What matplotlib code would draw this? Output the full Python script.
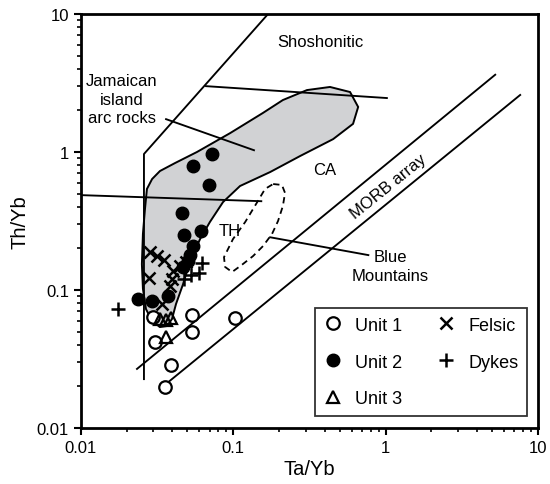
import matplotlib
matplotlib.use('Agg')
import matplotlib.pyplot as plt

plt.rcParams['font.family'] = ['Liberation Sans', 'DejaVu Sans']

# samples, Ta/Yb (x) and Th/Yb (y)
unit1_ta = [0.0298, 0.0535, 0.0535, 0.0307, 0.0391, 0.0357, 0.103]
unit1_th = [0.0637, 0.0659, 0.0499, 0.0422, 0.0286, 0.0197, 0.0624]
unit2_ta = [0.0724, 0.0543, 0.0698, 0.046, 0.0479, 0.0615, 0.0548, 0.0521, 0.0506, 0.0469, 0.0239, 0.0292, 0.0376]
unit2_th = [0.967, 0.788, 0.579, 0.361, 0.252, 0.266, 0.208, 0.179, 0.162, 0.147, 0.0861, 0.0836, 0.091]
unit3_ta = [0.0331, 0.0363, 0.0391, 0.0363]
unit3_th = [0.0616, 0.0606, 0.0627, 0.0458]
felsic_ta = [0.0285, 0.0316, 0.0352, 0.0281, 0.0403, 0.0397, 0.0385, 0.0449, 0.0491, 0.0342]
felsic_th = [0.188, 0.176, 0.165, 0.122, 0.137, 0.120, 0.107, 0.149, 0.160, 0.0792]
dyke_ta = [0.0625, 0.0597, 0.053, 0.0476, 0.0177]
dyke_th = [0.157, 0.133, 0.128, 0.120, 0.0728]

# field boundaries
ca_field_ta = [0.0272, 0.0294, 0.0331, 0.0416, 0.0579, 0.0955, 0.157, 0.212, 0.305, 0.432, 0.585,
               0.661, 0.612, 0.453, 0.275, 0.175, 0.111, 0.0859, 0.0704, 0.0607, 0.0521, 0.0469,
               0.0422, 0.0397, 0.0368, 0.0331, 0.0294, 0.0268, 0.0256, 0.0252, 0.0256, 0.0264]
ca_field_th = [0.540, 0.637, 0.728, 0.832, 1.0, 1.37, 1.92, 2.38, 2.81, 2.96, 2.72,
               2.12, 1.60, 1.24, 0.935, 0.716, 0.567, 0.434, 0.311, 0.234, 0.162, 0.110,
               0.0792, 0.0616, 0.0548, 0.0539, 0.0596, 0.0728, 0.102, 0.154, 0.255, 0.386]
bm_field_ta = [0.183, 0.209, 0.219, 0.212, 0.197, 0.180, 0.157, 0.135, 0.114, 0.0984, 0.0885,
               0.0871, 0.0998, 0.120, 0.144, 0.162, 0.183]
bm_field_th = [0.586, 0.577, 0.505, 0.406, 0.316, 0.255, 0.208, 0.176, 0.152, 0.135, 0.147,
               0.173, 0.234, 0.311, 0.434, 0.540, 0.586]
sho_ta = [0.026, 0.026, 0.1695]
sho_th = [0.0226, 0.967, 10]
sho_div_ta = [0.0664, 1.02]
sho_div_th = [3.0, 2.46]
th_div_ta = [0.01, 0.153]
th_div_th = [0.487, 0.44]
morb_hi_ta = [0.0234, 5.24]
morb_hi_th = [0.0268, 3.63]
morb_lo_ta = [0.0331, 7.64]
morb_lo_th = [0.0192, 2.59]
arc_ptr_ta = [0.0363, 0.137]
arc_ptr_th = [1.73, 1.03]
bm_ptr_ta = [0.175, 0.771]
bm_ptr_th = [0.241, 0.179]

fig = plt.figure(figsize=(5.5, 4.85), dpi=100)
ax = fig.add_axes([80.7 / 550, 56 / 485, 457.3 / 550, 414 / 485])
ax.set_xscale('log')
ax.set_yscale('log')
ax.set_xlim(0.01, 10)
ax.set_ylim(0.01, 10)

ax.fill(ca_field_ta, ca_field_th, facecolor='#d1d2d4', edgecolor='black', lw=1.4, zorder=1)
ax.plot(bm_field_ta, bm_field_th, color='black', lw=1.3, ls=(0, (3.5, 2.5)), zorder=2)

kw = dict(color='black', lw=1.35, zorder=2)
ax.plot(sho_ta, sho_th, **kw)
ax.plot(sho_div_ta, sho_div_th, **kw)
ax.plot(th_div_ta, th_div_th, **kw)
ax.plot(morb_hi_ta, morb_hi_th, **kw)
ax.plot(morb_lo_ta, morb_lo_th, **kw)
ax.plot(arc_ptr_ta, arc_ptr_th, **kw)
ax.plot(bm_ptr_ta, bm_ptr_th, **kw)

ax.plot(unit1_ta, unit1_th, 'o', ms=9, mfc='white', mec='black', mew=1.6, label='Unit 1', zorder=3)
ax.plot(unit2_ta, unit2_th, 'o', ms=9, mfc='black', mec='black', label='Unit 2', zorder=4)
ax.plot(unit3_ta, unit3_th, '^', ms=9, mfc='none', mec='black', mew=1.6, label='Unit 3', zorder=3)
ax.plot(felsic_ta, felsic_th, 'x', ms=9, mec='black', mew=1.8, label='Felsic', zorder=3)
ax.plot(dyke_ta, dyke_th, '+', ms=10, mec='black', mew=1.8, label='Dykes', zorder=3)

tf = dict(fontsize=12, ha='center', va='center')
ax.text(0.372, 6.37, 'Shoshonitic', **tf)
ax.text(0.0186, 2.42, 'Jamaican\nisland\narc rocks', linespacing=1.3, **tf)
ax.text(0.401, 0.753, 'CA', **tf)
ax.text(0.0955, 0.268, 'TH', **tf)
ax.text(1.04, 0.57, 'MORB array', rotation=39, **tf)
ax.text(1.07, 0.149, 'Blue\nMountains', linespacing=1.3, **tf)

leg = ax.legend(ncol=2, loc='lower right', bbox_to_anchor=(0.977, 0.028), borderaxespad=0,
                fontsize=13, frameon=True, fancybox=False, edgecolor='black',
                labelspacing=1.1, handlelength=1.0, handletextpad=0.75, columnspacing=1.9,
                borderpad=0.5)
leg.get_frame().set_linewidth(1.3)

for s in ax.spines.values():
    s.set_linewidth(2)
ax.tick_params(which='major', direction='out', length=5, width=1.5, labelsize=12, top=False, right=False)
ax.tick_params(which='minor', direction='out', length=3, width=1.2, top=False, right=False)
ax.set_xticks([0.01, 0.1, 1, 10])
ax.set_xticklabels(['0.01', '0.1', '1', '10'])
ax.set_yticks([0.01, 0.1, 1, 10])
ax.set_yticklabels(['0.01', '0.1', '1', '10'])
ax.set_xlabel('Ta/Yb', fontsize=14.5, labelpad=3)
ax.set_ylabel('Th/Yb', fontsize=14.5, labelpad=5)

fig.savefig('out.png', dpi=100)
